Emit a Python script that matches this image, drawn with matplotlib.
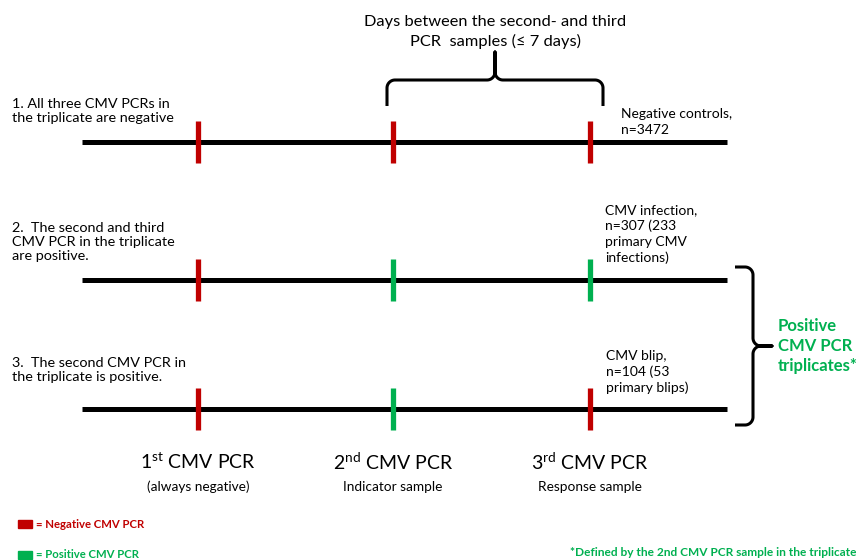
import numpy as np
import matplotlib
matplotlib.use("Agg")
import matplotlib.pyplot as plt

plt.rcParams["font.family"] = ["Lato", "DejaVu Sans"]
plt.rcParams["mathtext.fontset"] = "custom"
plt.rcParams["mathtext.rm"] = "Lato"
plt.rcParams["mathtext.default"] = "regular"

RED = "#C00000"
GREEN = "#00B050"

# data
pcr_names = ["1$^{st}$ CMV PCR", "2$^{nd}$ CMV PCR", "3$^{rd}$ CMV PCR"]
pcr_notes = ["(always negative)", "Indicator sample", "Response sample"]
row_labels = [
    "1. All three CMV PCRs in\nthe triplicate are negative",
    "2.  The second and third\nCMV PCR in the triplicate\nare positive.",
    "3.  The second CMV PCR in\nthe triplicate is positive.",
]
row_results = [
    "Negative controls,\nn=3472",
    "CMV infection,\nn=307 (233\nprimary CMV\ninfections)",
    "CMV blip,\nn=104 (53\nprimary blips)",
]
# True = positive PCR
row_states = [
    [False, False, False],
    [False, True, True],
    [False, True, False],
]

# layout (pixel coordinates)
pcr_x = [198, 393, 590]
row_y = [142, 280, 409]
label_y = [111, 242, 370]
result_pos = [(621, 122), (605, 234), (606, 372)]


def brace_h(ax, x0, x1, yb, ybar, ytip, r=8, lw=2.2):
    xm = (x0 + x1) / 2
    t = np.linspace(0, np.pi / 2, 20)
    pts = [(x0, yb), (x0, ybar + r)]
    pts += list(zip(x0 + r - r * np.cos(t), ybar + r - r * np.sin(t)))
    pts += [(xm - r, ybar)]
    pts += list(zip(xm - r + r * np.sin(t), ybar - r + r * np.cos(t)))
    pts += [(xm, ytip)]
    pts2 = [(2 * xm - px, py) for px, py in pts[::-1]]
    pts = pts + pts2
    xs, ys = zip(*pts)
    ax.plot(xs, ys, color="black", lw=lw, solid_capstyle="butt")


def brace_v(ax, y0, y1, xb, xbar, xtip, r=8, lw=2.2):
    ym = (y0 + y1) / 2
    t = np.linspace(0, np.pi / 2, 20)
    pts = [(xb, y0), (xbar - r, y0)]
    pts += list(zip(xbar - r + r * np.sin(t), y0 + r - r * np.cos(t)))
    pts += [(xbar, ym - r)]
    pts += list(zip(xbar + r - r * np.cos(t), ym - r + r * np.sin(t)))
    pts += [(xtip, ym)]
    pts2 = [(px, 2 * ym - py) for px, py in pts[::-1]]
    pts = pts + pts2
    xs, ys = zip(*pts)
    ax.plot(xs, ys, color="black", lw=lw, solid_capstyle="butt")


fig = plt.figure(figsize=(8.61, 5.6), dpi=100)
ax = fig.add_axes([0, 0, 1, 1])
ax.set_xlim(0, 861)
ax.set_ylim(560, 0)
ax.axis("off")

for i, y in enumerate(row_y):
    ax.plot([82, 727], [y, y], color="black", lw=3.6, solid_capstyle="butt", zorder=1)
    for x, pos in zip(pcr_x, row_states[i]):
        ax.plot([x, x], [y - 21, y + 21], color=GREEN if pos else RED,
                lw=3.8, solid_capstyle="butt", zorder=2)
    ax.text(12, label_y[i], row_labels[i], fontsize=10.4, va="center", ha="left",
            linespacing=1.25)
    rx, ry = result_pos[i]
    ax.text(rx, ry, row_results[i], fontsize=10, va="center", ha="left",
            linespacing=1.35)

for x, name, note in zip(pcr_x, pcr_names, pcr_notes):
    ax.text(x, 462, name, fontsize=14, ha="center", va="center")
    ax.text(x, 487, note, fontsize=9.8, ha="center", va="center")

# top brace + text
brace_h(ax, 387, 603, 106, 80, 52)
ax.text(495, 32, "Days between the second- and third\nPCR  samples (\u2264 7 days)",
        fontsize=11.8, ha="center", va="center", linespacing=1.4)

# right brace + text
brace_v(ax, 267, 425, 735, 753, 772)
ax.text(778, 346, "Positive\nCMV PCR\ntriplicates*", fontsize=12, color=GREEN,
        fontweight="bold", ha="left", va="center", linespacing=1.3)

# legend
ax.add_patch(plt.Rectangle((18, 520), 14, 8, color=RED))
ax.text(36, 524, "= Negative CMV PCR", fontsize=8.2, color=RED, fontweight="bold",
        va="center", ha="left")
ax.add_patch(plt.Rectangle((18, 551), 14, 8, color=GREEN))
ax.text(36, 555, "= Positive CMV PCR", fontsize=8.2, color=GREEN, fontweight="bold",
        va="center", ha="left")

ax.text(857, 553, "*Defined by the 2nd CMV PCR sample in the triplicate", fontsize=8.6,
        color=GREEN, fontweight="bold", va="center", ha="right")

fig.savefig("out.png", dpi=100)
